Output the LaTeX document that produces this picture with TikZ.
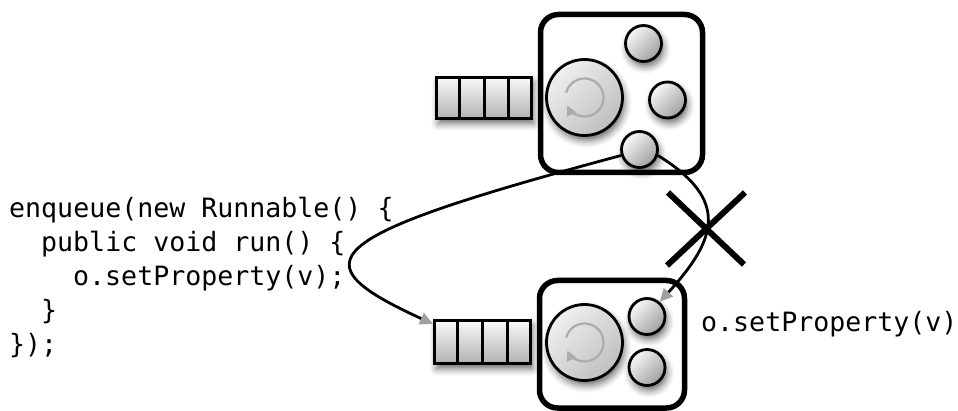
\documentclass[tikz,border=0pt]{standalone}
\usepackage{fontspec}
\setmonofont{DejaVu Sans Mono}
\usetikzlibrary{arrows.meta,shadows.blur,calc}
\begin{document}
\begin{tikzpicture}[x=1pt,y=-1pt,
  box/.style={draw, line width=5.5pt, rounded corners=18pt, inner sep=0pt},
  shadowed/.style={blur shadow={shadow xshift=2pt, shadow yshift=-5pt, shadow blur radius=7pt, shadow opacity=60}},
  ball/.style={circle, draw, line width=2.8pt, inner sep=0pt, minimum size=36pt,
    top color=gray!5, bottom color=gray!75, shading angle=45, shadowed},
  core/.style={ball, minimum size=76pt, top color=gray!12, bottom color=gray!50, shading angle=45},
  queue/.style={draw, line width=3pt, inner sep=0pt, top color=gray!5, bottom color=gray!60, shadowed},
  spin/.style={draw=gray!65, line width=2.2pt, -{Triangle[length=10pt,width=10pt]}},
  conn/.style={line width=2.8pt, -{Triangle[length=13pt,width=12pt,color=gray!75]}},
  cross/.style={line width=6pt},
  code/.style={font=\ttfamily\fontsize{26.6pt}{34pt}\selectfont, anchor=base west, inner sep=0pt},
]
\useasboundingbox (0,0) rectangle (958,411);

% top actor
\node[box, minimum width=162pt, minimum height=158pt] (tbox) at (621.5,93.5) {};
\node[queue, minimum width=95pt, minimum height=41pt] (qtop) at (484,98) {};
\foreach \f in {0.25,0.5,0.75}
  \draw[line width=3pt] ($(qtop.north west)!\f!(qtop.north east)$) -- ($(qtop.south west)!\f!(qtop.south east)$);
\node[core] (tcore) at (584.5,97.5) {};
\draw[spin] ($(tcore.center)+(195:19)$) arc[start angle=195, end angle=515, radius=19];
\node[ball] (ts1) at (643.5,43.5) {};
\node[ball] (ts2) at (667.5,100) {};
\node[ball] (ts3) at (639.5,149.5) {};

% bottom actor
\node[box, minimum width=145pt, minimum height=127.5pt] (bbox) at (612,344.25) {};
\node[queue, minimum width=96pt, minimum height=43pt] (qbot) at (482.5,342) {};
\foreach \f in {0.25,0.5,0.75}
  \draw[line width=3pt] ($(qbot.north west)!\f!(qbot.north east)$) -- ($(qbot.south west)!\f!(qbot.south east)$);
\node[core] (bcore) at (584.5,342.5) {};
\draw[spin] ($(bcore.center)+(195:19)$) arc[start angle=195, end angle=515, radius=19];
\node[ball] (bs1) at (647,316.5) {};
\node[ball] (bs2) at (647,367.5) {};

% code
\node[code] (c1) at (9,218) {enqueue(new Runnable() \{};
\node[code] (c2) at (41,252) {public void run() \{};
\node[code] (c3) at (73,286) {o.setProperty(v);};
\node[code] (c4) at (41,320) {\}};
\node[code] (c5) at (9,354) {\});};
\node[code] (call) at (701,332) {o.setProperty(v)};

% connectors
\draw[conn] (ts3.198) .. controls (313,238) and (298,262) .. (qbot.160);
\draw[conn] (ts3.-18) .. controls (730,200) and (717,239) .. (bs1.49);

% cross
\coordinate (xm) at (706,228.5);
\draw[cross] ($(xm)+(-38,-36)$) -- ($(xm)+(38,36)$);
\draw[cross] ($(xm)+(39,-36)$) -- ($(xm)+(-39,37)$);
\end{tikzpicture}
\end{document}
